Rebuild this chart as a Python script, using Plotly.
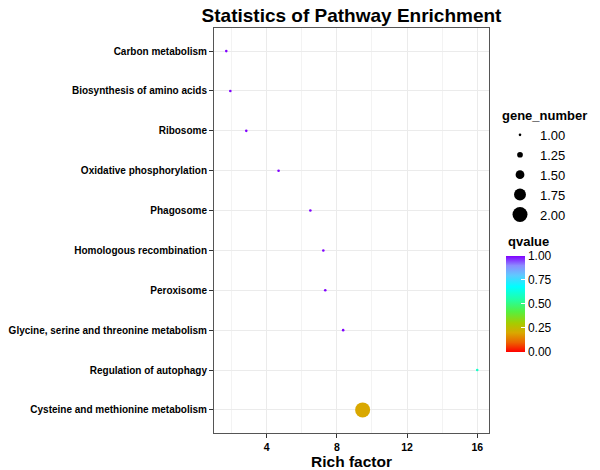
import plotly.graph_objects as go

# ---- data ----
pathways = [
    "Cysteine and methionine metabolism",
    "Regulation of autophagy",
    "Glycine, serine and threonine metabolism",
    "Peroxisome",
    "Homologous recombination",
    "Phagosome",
    "Oxidative phosphorylation",
    "Ribosome",
    "Biosynthesis of amino acids",
    "Carbon metabolism",
]
rich_factor = [9.47, 16.0, 8.36, 7.34, 7.23, 6.49, 4.68, 2.84, 1.93, 1.70]
gene_number = [2, 1, 1, 1, 1, 1, 1, 1, 1, 1]
qvalue = [0.2, 0.6, 1, 1, 1, 1, 1, 1, 1, 1]

legend_sizes = [1.00, 1.25, 1.50, 1.75, 2.00]
q_ticks = [0, 0.25, 0.5, 0.75, 1.0]
x_ticks = [4, 8, 12, 16]

FONT = "Liberation Sans"

def size_px(g):
    return 2.6 + (g - 1) * 12.4

colorscale = [
    [0.0, "#FF0000"],
    [0.1, "#EC6400"],
    [0.2, "#D9A800"],
    [0.3, "#A6CC00"],
    [0.42, "#55F040"],
    [0.55, "#20FFA8"],
    [0.68, "#00FFFF"],
    [0.8, "#60C8FF"],
    [0.9, "#8C8CFF"],
    [1.0, "#8000FF"],
]

fig = go.Figure()

fig.add_trace(go.Scatter(
    x=rich_factor, y=pathways, mode="markers", showlegend=False,
    marker=dict(
        size=[size_px(g) for g in gene_number], opacity=1,
        color=qvalue, cmin=0, cmax=1, colorscale=colorscale,
        line=dict(width=0),
        colorbar=dict(
            tickvals=q_ticks, ticktext=[f"{v:.2f}" for v in q_ticks],
            tickfont=dict(family=FONT, size=12, color="black"),
            ticks="inside", tickcolor="white", ticklen=4,
            thickness=19, thicknessmode="pixels",
            len=96, lenmode="pixels",
            xref="container", x=506 / 600, xanchor="left", xpad=0,
            yref="container", y=0.3686, yanchor="top", ypad=0,
            outlinewidth=0,
        ),
    ),
))

for g in legend_sizes:
    fig.add_trace(go.Scatter(
        x=[None], y=[None], mode="markers", name=f"{g:.2f}",
        marker=dict(size=size_px(g), color="black", opacity=1, line=dict(width=0)),
        showlegend=True,
    ))

fig.update_layout(
    width=600, height=470,
    margin=dict(l=214, r=111, t=28, b=37),
    paper_bgcolor="white", plot_bgcolor="white",
    title=dict(text="<b>Statistics of Pathway Enrichment</b>", x=0.5, xref="paper",
               xanchor="center", yref="container", y=1 - 15 / 470, yanchor="middle",
               font=dict(family=FONT, size=19, color="black")),
    legend=dict(
        title=dict(text="<b>gene_number</b>", font=dict(family=FONT, size=13, color="black")),
        font=dict(family=FONT, size=13, color="black"),
        xref="container", x=500 / 600, xanchor="left",
        yref="container", y=1 - 103 / 470, yanchor="top",
        itemsizing="trace", tracegroupgap=0, bgcolor="rgba(0,0,0,0)",
    ),
    annotations=[dict(
        text="<b>qvalue</b>", xref="paper", yref="paper",
        x=(506 - 214) / 275, y=(433 - 241) / 405, xanchor="left", yanchor="middle",
        showarrow=False, font=dict(family=FONT, size=13, color="black"),
    )],
    xaxis=dict(
        range=[1.0, 16.67], tickvals=x_ticks,
        ticks="outside", ticklen=4, tickcolor="#333333",
        tickfont=dict(family=FONT, size=10.5, color="black", weight="bold"),
        showgrid=True, gridcolor="#EBEBEB", gridwidth=1,
        minor=dict(dtick=2, tick0=0, showgrid=True, gridcolor="#F3F3F3", gridwidth=1),
        showline=True, mirror=True, linecolor="#555555", linewidth=1,
        zeroline=False, automargin=False,
        title=dict(text="<b>Rich factor</b>", font=dict(family=FONT, size=15.5, color="black"), standoff=4),
    ),
    yaxis=dict(
        type="category", categoryorder="array", categoryarray=pathways,
        range=[-0.58, 9.58],
        ticks="outside", ticklen=4, tickcolor="#333333",
        tickfont=dict(family=FONT, size=10, color="black", weight="bold"),
        showgrid=True, gridcolor="#EBEBEB", gridwidth=1,
        showline=True, mirror=True, linecolor="#555555", linewidth=1,
        zeroline=False, automargin=False,
    ),
)

fig.write_html("out.html", config={"displayModeBar": False},
               post_script="document.body.style.margin='0';")
